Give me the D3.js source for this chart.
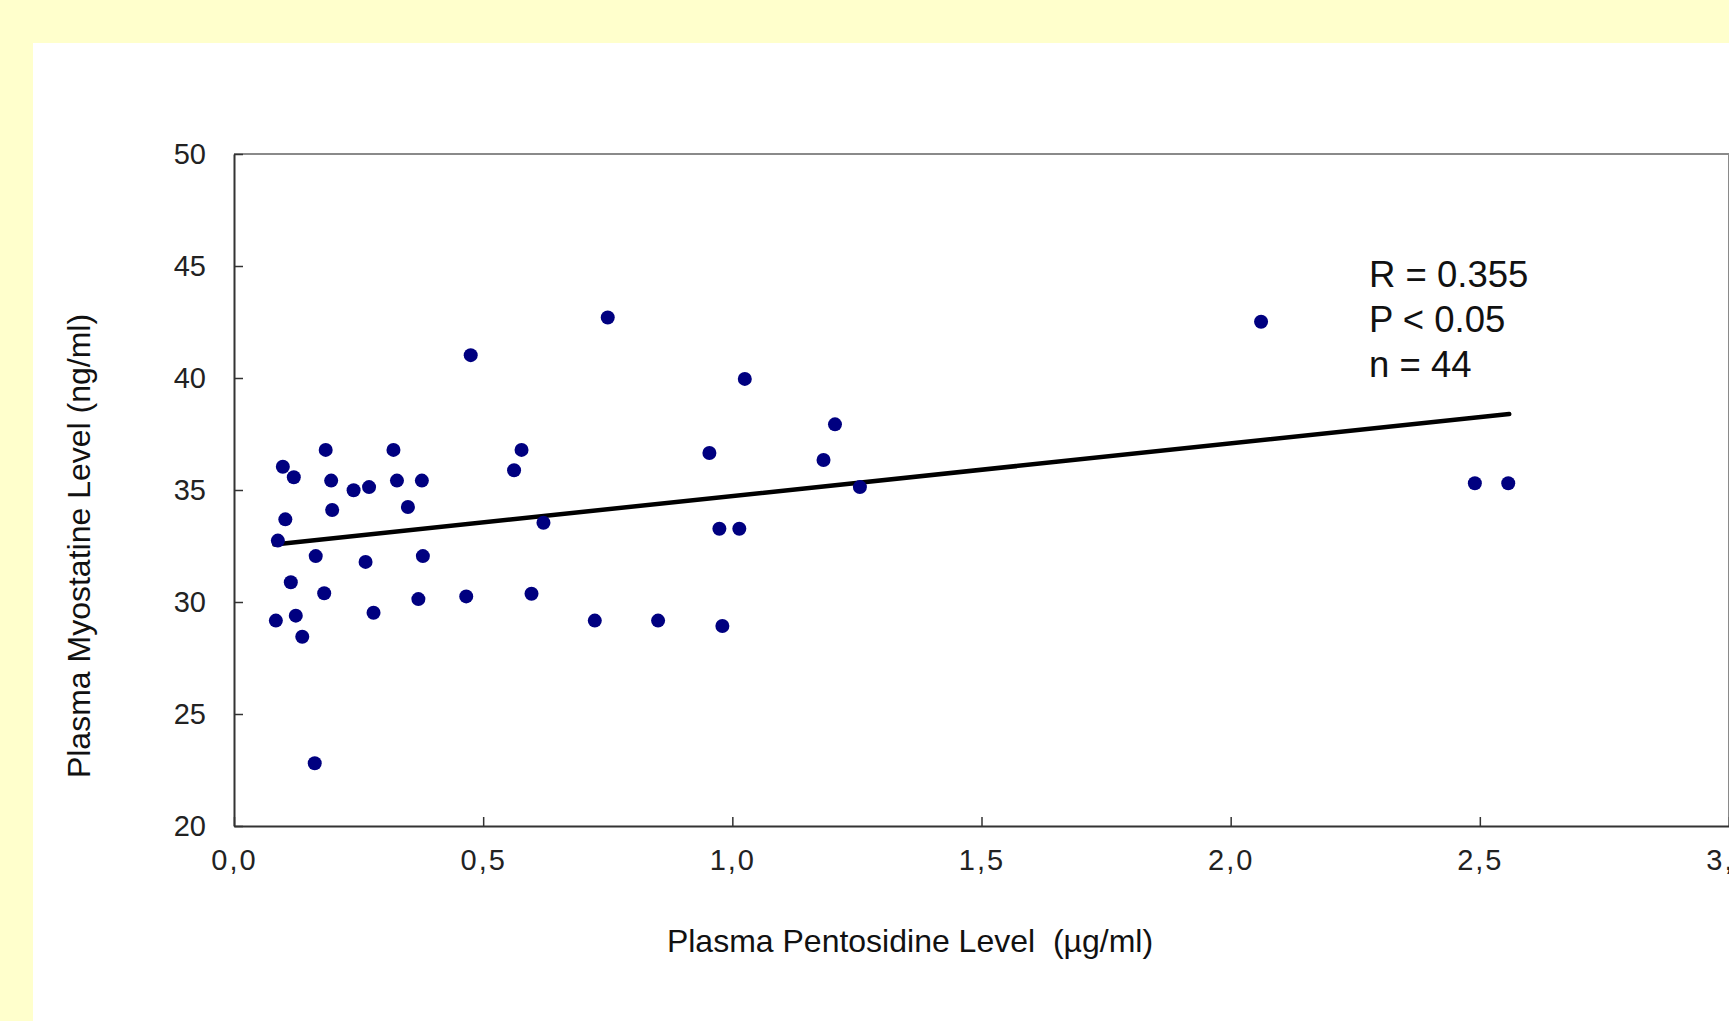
<!DOCTYPE html>
<html>
<head>
<meta charset="utf-8">
<script src="https://cdn.jsdelivr.net/npm/d3@7"></script>
<style>
    body { margin: 0; background: #ffffcc; overflow: hidden; }
    text { font-family: "Liberation Sans", Arial, sans-serif; fill: #111; }
</style>
</head>
<body>
<div id="chart"></div>
<script>
// pentosidine (x) and myostatine (y), one entry per patient
var pentosidine = [0.084, 0.088, 0.098, 0.103, 0.114, 0.120, 0.124, 0.137, 0.162, 0.164,
    0.181, 0.184, 0.195, 0.197, 0.240, 0.264, 0.271, 0.280, 0.320, 0.327,
    0.349, 0.370, 0.377, 0.379, 0.466, 0.475, 0.562, 0.577, 0.597, 0.621,
    0.724, 0.750, 0.851, 0.954, 0.974, 0.980, 1.014, 1.025, 1.183, 1.206,
    1.256, 2.061, 2.490, 2.557];
var myostatine = [29.17, 32.74, 36.04, 33.69, 30.88, 35.57, 29.39, 28.45, 22.80, 32.05,
    30.39, 36.79, 35.42, 34.11, 34.99, 31.79, 35.13, 29.52, 36.79, 35.42,
    34.24, 30.13, 35.42, 32.05, 30.25, 41.02, 35.88, 36.79, 30.37, 33.54,
    29.17, 42.70, 29.17, 36.65, 33.27, 28.93, 33.27, 39.96, 36.34, 37.93,
    35.13, 42.51, 35.30, 35.30];

// linear fit: intercept, slope and x range of the drawn segment
var fitCoef = [32.38, 2.35];
var fitRange = [0.081, 2.559];

var xTicks = [0, 0.5, 1, 1.5, 2, 2.5, 3];
var yTicks = [20, 25, 30, 35, 40, 45, 50];
var statLines = ["R = 0.355", "P < 0.05", "n = 44"];

var width = 1729;
var height = 1021;
var margin = { top: 154, right: 0, left: 234, bottom: 195 };

var svg = d3.select('#chart')
    .append('svg')
    .attr('width', width)
    .attr('height', height);

// white panel on the yellow slide
svg.append('rect')
    .attr('x', 33)
    .attr('y', 43)
    .attr('width', width - 33)
    .attr('height', height - 43)
    .attr('fill', '#ffffff');

var x = d3.scaleLinear()
    .domain([0, 3])
    .range([margin.left, width]);

var y = d3.scaleLinear()
    .domain([20, 50])
    .range([height - margin.bottom, margin.top]);

// grey frame on top and right
svg.append('path')
    .attr('d', 'M' + x(0) + ',' + y(50) + 'H' + x(3) + 'V' + y(20))
    .attr('fill', 'none')
    .attr('stroke', '#8a8a8a')
    .attr('stroke-width', 2);

var xAxis = svg.append('g')
    .attr('transform', 'translate(0,' + y(20) + ')')
    .call(d3.axisBottom(x)
        .tickValues(xTicks)
        .tickSizeInner(-9)
        .tickSizeOuter(0)
        .tickPadding(23)
        .tickFormat((d) => d.toFixed(1).replace('.', ',')));

var yAxis = svg.append('g')
    .attr('transform', 'translate(' + x(0) + ',0)')
    .call(d3.axisLeft(y)
        .tickValues(yTicks)
        .tickSizeInner(-9)
        .tickSizeOuter(0)
        .tickPadding(28));

svg.selectAll('.domain')
    .attr('stroke', '#333')
    .attr('stroke-width', 2);
svg.selectAll('.tick line')
    .attr('stroke', '#333')
    .attr('stroke-width', 1.5);
svg.selectAll('.tick text')
    .style('font-size', '29px')
    .style('fill', '#222');
xAxis.selectAll('.tick text')
    .style('letter-spacing', '2px');

// regression line
var fitLine = d3.line()
    .x((d) => x(d))
    .y((d) => y(fitCoef[0] + fitCoef[1] * d));

svg.append('path')
    .datum(fitRange)
    .attr('d', fitLine)
    .attr('fill', 'none')
    .attr('stroke', '#000')
    .attr('stroke-width', 4.5)
    .attr('stroke-linecap', 'round');

svg.append('g')
    .selectAll('circle')
    .data(pentosidine)
    .join('circle')
    .attr('cx', (d) => x(d))
    .attr('cy', (d, i) => y(myostatine[i]))
    .attr('r', 7)
    .attr('fill', '#000080');

svg.append('g')
    .selectAll('text')
    .data(statLines)
    .join('text')
    .attr('x', 1369)
    .attr('y', (d, i) => 286.5 + 45 * i)
    .style('font-size', '36.5px')
    .text((d) => d);

svg.append('text')
    .attr('x', 910)
    .attr('y', 952)
    .attr('text-anchor', 'middle')
    .style('font-size', '32px')
    .style('white-space', 'pre')
    .text('Plasma Pentosidine Level  (\u00b5g/ml)');

svg.append('text')
    .attr('transform', 'translate(90,546) rotate(-90)')
    .attr('text-anchor', 'middle')
    .style('font-size', '32px')
    .text('Plasma Myostatine Level (ng/ml)');
</script>
</body>
</html>
